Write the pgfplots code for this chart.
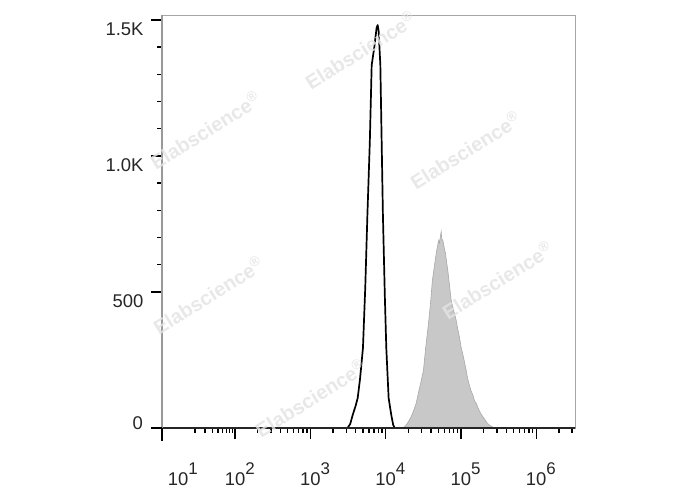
\documentclass[border=0pt]{standalone}
\usepackage{pgfplots}
\pgfplotsset{compat=1.18}
\usepackage{fontspec}
\setmainfont{Liberation Sans}
\setsansfont{Liberation Sans}
\definecolor{fillgray}{HTML}{C8C8C8}
\definecolor{edgegray}{HTML}{A8A8A8}
\definecolor{wm}{HTML}{E4E4E4}
\pgfplotstableread{
u v
1.03 0
3.48 0
3.50 2
3.53 15
3.563 48
3.60 80
3.629 110
3.66 180
3.699 294
3.73 520
3.758 783
3.79 1050
3.815 1334
3.85 1400
3.88 1470
3.894 1481
3.907 1460
3.93 1334
3.964 783
3.99 480
4.009 294
4.04 110
4.075 48
4.10 12
4.12 0
6.515 0
}\blackdata
\pgfplotstableread{
u v
4.20 0
4.25 4
4.274 11
4.30 22
4.340 42
4.37 62
4.407 92
4.44 135
4.47 170
4.503 213
4.53 290
4.555 350
4.574 397
4.60 470
4.62 540
4.640 581
4.655 610
4.672 642
4.69 670
4.705 690
4.715 680
4.725 700
4.738 722
4.745 695
4.76 690
4.78 660
4.795 642
4.81 610
4.825 581
4.85 520
4.87 470
4.895 440
4.915 420
4.936 397
4.96 360
4.980 335
5.00 300
5.03 265
5.045 245
5.069 213
5.09 180
5.11 160
5.13 140
5.16 120
5.18 100
5.201 92
5.23 72
5.26 55
5.289 42
5.32 30
5.35 18
5.377 11
5.41 5
5.444 0
}\graydata
\begin{document}
\begin{tikzpicture}[x=1bp,y=1bp]
\path[use as bounding box] (0,0) rectangle (688,490);
\begin{axis}[
  at={(162bp,62bp)}, anchor=south west,
  scale only axis, width=413bp, height=413bp,
  xmin=1.0305, xmax=6.515, ymin=0, ymax=1518,
  axis line style={draw=gray!70, line width=0.8bp},
  tick align=outside, xtick pos=bottom, ytick pos=left,
  major tick length=11bp, minor tick length=5bp,
  every tick/.style={black, line width=1.4bp},
  xtick={2,3,4,5,6},
  xticklabels={10\rlap{\raisebox{11bp}{\fontsize{17}{17}\selectfont 2}},
               10\rlap{\raisebox{11bp}{\fontsize{17}{17}\selectfont 3}},
               10\rlap{\raisebox{11bp}{\fontsize{17}{17}\selectfont 4}},
               10\rlap{\raisebox{11bp}{\fontsize{17}{17}\selectfont 5}},
               10\rlap{\raisebox{11bp}{\fontsize{17}{17}\selectfont 6}}},
  extra x ticks={1.243},
  extra x tick labels={10\rlap{\raisebox{11bp}{\fontsize{17}{17}\selectfont 1}}},
  extra x tick style={tick style={opacity=0}},
  minor xtick={1.471,1.604,1.699,1.772,1.832,1.883,1.927,1.965,
               2.301,2.477,2.602,2.699,2.778,2.845,2.903,2.954,
               3.301,3.477,3.602,3.699,3.778,3.845,3.903,3.954,
               4.301,4.477,4.602,4.699,4.778,4.845,4.903,4.954,
               5.301,5.477,5.602,5.699,5.778,5.845,5.903,5.954,
               6.301,6.477},
  ytick={500,1000,1500},
  yticklabels={500,1.0K,1.5K},
  minor y tick num=4,
  xticklabel style={font=\fontsize{18.5}{18.5}\selectfont, text=black!85, anchor=base, inner sep=0pt, yshift=-47bp},
  yticklabel style={font=\fontsize{18.5}{18.5}\selectfont, text=black!85, yshift=-9bp, xshift=-4bp},
  clip=false,
]
\addplot[draw=edgegray, fill=fillgray, line width=0.6bp] table[x=u,y=v] {\graydata} -- cycle;
\addplot[black, line width=1.7bp, line join=round] table[x=u,y=v] {\blackdata};
\draw[black!85, line width=2.2bp] (rel axis cs:0,0) -- (rel axis cs:1,0);
\draw[gray!80, line width=1.6bp] (rel axis cs:0,0) -- (rel axis cs:0,1);
\end{axis}
\node[anchor=east, font=\fontsize{18.5}{18.5}\selectfont, text=black!85, inner sep=0pt] at (143,67) {0};
\draw[black, line width=1.4bp] (151,62) -- (162,62);
\draw[black, line width=1.4bp] (162,62) -- (162,49);
\begin{scope}[every node/.style={text=wm, opacity=0.85, font=\bfseries\fontsize{20}{20}\selectfont, rotate=32}]
\node at (360,440) {Elabscience\textsuperscript{®}};
\node at (205,360) {Elabscience\textsuperscript{®}};
\node at (465,340) {Elabscience\textsuperscript{®}};
\node at (208,195) {Elabscience\textsuperscript{®}};
\node at (497,210) {Elabscience\textsuperscript{®}};
\node at (310,92) {Elabscience\textsuperscript{®}};
\end{scope}
\end{tikzpicture}
\end{document}
